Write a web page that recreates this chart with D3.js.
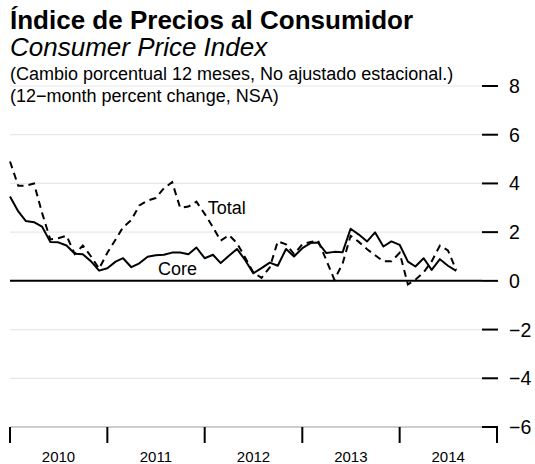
<!DOCTYPE html>
<html>
<head>
<meta charset="utf-8">
<script src="https://cdn.jsdelivr.net/npm/d3@7/dist/d3.min.js"></script>
<style>
body { margin: 0; background: #fff; }
text { font-family: 'Liberation Sans', Arial, Helvetica, sans-serif; fill: #000; }
</style>
</head>
<body>
<div id="container"></div>
<script>
// monthly 12-month % change, Jan 2010 .. Aug 2014
var totalCpi = [
    4.9, 3.9, 3.9, 4.0, 2.8, 1.7, 1.75, 1.85, 1.1, 1.45, 1.0, 0.5,
    1.15, 1.7, 2.2, 2.5, 3.1, 3.3, 3.4, 3.8, 4.05, 3.0, 3.05, 3.25,
    2.75, 2.2, 1.65, 1.88, 1.55, 0.95, 0.35, 0.12, 0.55, 1.62, 1.5, 1.1,
    1.5, 1.6, 1.65, 0.85, 0.05, 0.7, 1.85, 1.6, 1.3, 1.05, 0.8, 0.8,
    1.15, -0.15, 0.05, 0.35, 0.8, 1.45, 1.25, 0.45
]
var coreCpi = [
    3.46, 2.85, 2.46, 2.41, 2.23, 1.6, 1.58, 1.45, 1.11, 1.09, 0.8, 0.42,
    0.52, 0.79, 0.93, 0.56, 0.72, 0.99, 1.05, 1.07, 1.16, 1.16, 1.09, 1.37,
    0.93, 1.07, 0.73, 1.03, 1.31, 0.85, 0.31, 0.52, 0.75, 0.62, 1.31, 1.0,
    1.34, 1.55, 1.57, 1.14, 1.19, 1.17, 2.14, 1.9, 1.62, 1.99, 1.41, 1.62,
    1.48, 0.79, 0.59, 0.93, 0.45, 0.89, 0.62, 0.41
]
var firstMonth = new Date(2010, 0, 1)
var years = [2010, 2011, 2012, 2013, 2014]
var yearLabels = ['2010', '2011', '2012', '2013', '2014']
var yTicks = [-6, -4, -2, 0, 2, 4, 6, 8]
var seriesLabels = ['Total', 'Core']

var width = 535,
    height = 464
var plot = { left: 10, right: 497, top: 86, bottom: 427, tickStart: 482 }

var svg = d3
    .select('#container')
    .append('svg')
    .attr('width', width)
    .attr('height', height)
    .style('background', '#fff')

var x = d3
    .scaleTime()
    .domain([new Date(years[0], 0, 1), new Date(years[years.length - 1] + 1, 0, 1)])
    .range([plot.left, plot.right])
var y = d3.scaleLinear().domain([-6, 8]).range([plot.bottom, plot.top])

var months = totalCpi.map(function(d, i) {
    return d3.timeMonth.offset(firstMonth, i)
})

// gridlines
svg.append('g')
    .selectAll('line')
    .data(yTicks.filter(function(d) { return d != 0 && d != -6 }))
    .enter()
    .append('line')
    .attr('x1', plot.left)
    .attr('x2', plot.tickStart)
    .attr('y1', function(d) { return y(d) })
    .attr('y2', function(d) { return y(d) })
    .style('stroke', '#e8e8e8')
    .style('stroke-width', 1.2)

// bottom axis line
svg.append('line')
    .attr('x1', plot.left)
    .attr('x2', plot.right)
    .attr('y1', y(-6))
    .attr('y2', y(-6))
    .style('stroke', '#bdbdbd')
    .style('stroke-width', 1.5)

// zero line
svg.append('line')
    .attr('x1', plot.left)
    .attr('x2', plot.tickStart)
    .attr('y1', y(0))
    .attr('y2', y(0))
    .style('stroke', '#000')
    .style('stroke-width', 2)

// right axis ticks + labels
var yAxis = svg.append('g').selectAll('g').data(yTicks).enter().append('g')
yAxis.append('line')
    .attr('x1', plot.tickStart)
    .attr('x2', plot.tickStart + 16)
    .attr('y1', function(d) { return y(d) })
    .attr('y2', function(d) { return y(d) })
    .style('stroke', '#000')
    .style('stroke-width', 2)
yAxis.append('text')
    .attr('x', plot.tickStart + 27)
    .attr('y', function(d) { return y(d) })
    .attr('dy', '0.36em')
    .style('font-size', '19.5px')
    .text(function(d) { return d < 0 ? '\u2212' + Math.abs(d) : d })

// year ticks
var yearEdges = years.concat([years[years.length - 1] + 1])
svg.append('g')
    .selectAll('line')
    .data(yearEdges)
    .enter()
    .append('line')
    .attr('x1', function(d) { return x(new Date(d, 0, 1)) })
    .attr('x2', function(d) { return x(new Date(d, 0, 1)) })
    .attr('y1', y(-6))
    .attr('y2', y(-6) + 16)
    .style('stroke', '#000')
    .style('stroke-width', 2)

svg.append('g')
    .selectAll('text')
    .data(years)
    .enter()
    .append('text')
    .attr('x', function(d) { return x(new Date(d, 6, 2)) })
    .attr('y', 462)
    .attr('text-anchor', 'middle')
    .style('font-size', '15px')
    .style('font-weight', 'normal')
    .text(function(d, i) { return yearLabels[i] })

// lines
var line = d3
    .line()
    .x(function(d, i) { return x(months[i]) })
    .y(function(d) { return y(d) })

svg.append('path')
    .datum(totalCpi)
    .attr('d', line)
    .style('fill', 'none')
    .style('stroke', '#000')
    .style('stroke-width', 2)
    .style('stroke-dasharray', '7,5')

svg.append('path')
    .datum(coreCpi)
    .attr('d', line)
    .style('fill', 'none')
    .style('stroke', '#000')
    .style('stroke-width', 2)
    .style('stroke-linejoin', 'round')

// series labels
svg.append('text')
    .attr('x', x(new Date(2012, 0, 12)))
    .attr('y', y(2.75))
    .style('font-size', '18px')
    .text(seriesLabels[0])

svg.append('text')
    .attr('x', x(new Date(2011, 6, 10)))
    .attr('y', y(0.22))
    .style('font-size', '18px')
    .text(seriesLabels[1])

// titles
svg.append('text')
    .attr('x', 10)
    .attr('y', 29)
    .style('font-size', '26px')
    .style('font-weight', 'bold')
    .text('Índice de Precios al Consumidor')

svg.append('text')
    .attr('x', 10)
    .attr('y', 56)
    .style('font-size', '26px')
    .style('font-style', 'italic')
    .text('Consumer Price Index')

svg.append('text')
    .attr('x', 10)
    .attr('y', 80)
    .style('font-size', '18px')
    .text('(Cambio porcentual 12 meses, No ajustado estacional.)')

svg.append('text')
    .attr('x', 10)
    .attr('y', 102)
    .style('font-size', '18px')
    .text('(12\u2212month percent change, NSA)')
</script>
</body>
</html>
